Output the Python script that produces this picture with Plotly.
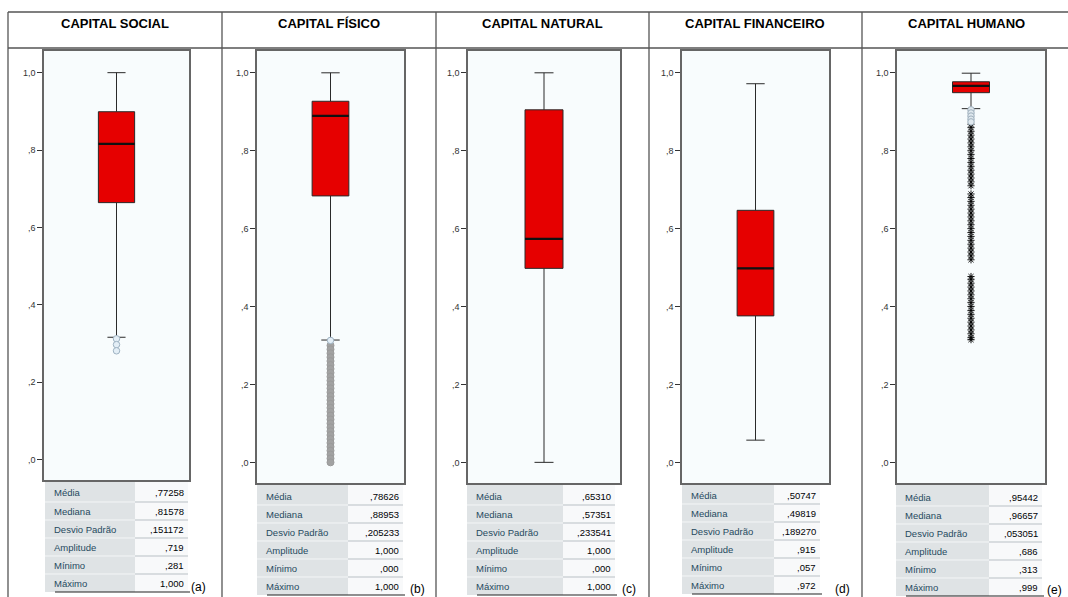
import plotly.graph_objects as go

# ---------------- data ----------------
titles = ["CAPITAL SOCIAL", "CAPITAL FÍSICO", "CAPITAL NATURAL", "CAPITAL FINANCEIRO", "CAPITAL HUMANO"]
panel_tags = ["(a)", "(b)", "(c)", "(d)", "(e)"]

q1 = [0.664, 0.684, 0.498, 0.376, 0.949]
median = [0.81578, 0.88953, 0.57351, 0.49819, 0.96657]
q3 = [0.899, 0.927, 0.905, 0.647, 0.977]
lower_whisker = [0.316, 0.314, 0.000, 0.057, 0.908]
upper_whisker = [1.000, 1.000, 1.000, 0.972, 0.999]

# outliers (circles)
outliers_social = [0.312, 0.297, 0.281]
outliers_fisico = [0.30, 0.29, 0.28, 0.27, 0.26, 0.25, 0.24, 0.23, 0.22, 0.21, 0.20,
                   0.19, 0.18, 0.17, 0.16, 0.15, 0.14, 0.13, 0.12, 0.11, 0.10,
                   0.09, 0.08, 0.07, 0.06, 0.05, 0.04, 0.03, 0.02, 0.01, 0.00]
outliers_fisico_top = [0.313]
outliers_humano = [0.905, 0.897, 0.889, 0.881, 0.874]
# extreme values (stars)
extremes_humano = [0.868, 0.86, 0.85, 0.84, 0.83, 0.82, 0.81, 0.80, 0.79, 0.78, 0.77,
                   0.76, 0.75, 0.74, 0.73, 0.72, 0.71,
                   0.689, 0.68, 0.67, 0.66, 0.65, 0.64, 0.63, 0.62, 0.61, 0.60,
                   0.59, 0.58, 0.57, 0.56, 0.55, 0.54, 0.53, 0.52,
                   0.477, 0.47, 0.46, 0.45, 0.44, 0.43, 0.42, 0.41, 0.40, 0.39,
                   0.38, 0.37, 0.36, 0.35, 0.34, 0.33, 0.32, 0.315]

y_tick_vals = [0.0, 0.2, 0.4, 0.6, 0.8, 1.0]
y_tick_text = [",0", ",2", ",4", ",6", ",8", "1,0"]

stat_labels = ["Média", "Mediana", "Desvio Padrão", "Amplitude", "Mínimo", "Máximo"]
stats_social = [",77258", ",81578", ",151172", ",719", ",281", "1,000"]
stats_fisico = [",78626", ",88953", ",205233", "1,000", ",000", "1,000"]
stats_natural = [",65310", ",57351", ",233541", "1,000", ",000", "1,000"]
stats_financeiro = [",50747", ",49819", ",189270", ",915", ",057", ",972"]
stats_humano = [",95442", ",96657", ",053051", ",686", ",313", ",999"]
stats_all = [stats_social, stats_fisico, stats_natural, stats_financeiro, stats_humano]

# ---------------- layout geometry (pixels) ----------------
W, H = 1068, 597
def px(x):
    return x / W
def py(y):
    return 1 - y / H

frames = [  # left, right, top, bottom
    (44, 189, 51, 480),
    (257, 404, 51, 483),
    (468, 620, 51, 483),
    (682, 829, 51, 483),
    (897, 1045, 51, 483),
]
col_edges = [8, 222, 436, 649, 862, 1070]
title_centers = [115, 329, 542, 755, 966]
tables = [  # label_left, mid, right, row_top
    (45, 135, 188, 484),
    (257, 348, 403, 487),
    (467, 563, 615, 487),
    (682, 774, 820, 486),
    (896, 989, 1042, 488),
]
tag_pos = [(198, 587), (417, 589), (629, 589), (842, 589), (1054, 590)]
ROW_H = 18
YR = [-0.053, 1.056]
BOX_POS = 0.5
BOX_W = 0.25

fig = go.Figure()
layout = dict(
    width=W, height=H, margin=dict(l=0, r=0, t=0, b=0),
    paper_bgcolor="white", plot_bgcolor="#f8fcfd",
    showlegend=False, font=dict(family="Liberation Sans, Arial, sans-serif"),
)

for i in range(5):
    n = i + 1
    xa = "x" if n == 1 else f"x{n}"
    ya = "y" if n == 1 else f"y{n}"
    l, r, t, b = frames[i]
    layout[f"xaxis{n}" if n > 1 else "xaxis"] = dict(
        domain=[px(l), px(r)], anchor=ya, range=[0, 1],
        showticklabels=False, ticks="", showgrid=False, zeroline=False,
        showline=True, mirror=True, linecolor="#666", linewidth=1.5, fixedrange=True,
    )
    layout[f"yaxis{n}" if n > 1 else "yaxis"] = dict(
        domain=[py(b), py(t)], anchor=xa, range=YR,
        tickvals=y_tick_vals, ticktext=y_tick_text, ticks="outside", ticklen=5,
        tickcolor="#333", tickwidth=1, tickfont=dict(size=9, color="#333"),
        showgrid=False, zeroline=False,
        showline=True, mirror=True, linecolor="#666", linewidth=1.5, fixedrange=True,
    )

    fig.add_trace(go.Box(
        x=[BOX_POS], q1=[q1[i]], median=[median[i]], q3=[q3[i]],
        lowerfence=[lower_whisker[i]], upperfence=[upper_whisker[i]],
        width=BOX_W, whiskerwidth=0.5, fillcolor="#e60000",
        line=dict(color="#2a2a2a", width=1), boxpoints=False,
        xaxis=xa, yaxis=ya, hoverinfo="skip",
    ))
    # thicker median line
    fig.add_trace(go.Scatter(
        x=[BOX_POS - BOX_W / 2, BOX_POS + BOX_W / 2], y=[median[i], median[i]],
        mode="lines", line=dict(color="#111", width=2.2),
        xaxis=xa, yaxis=ya, hoverinfo="skip",
    ))

def add_points(vals, axis_n, symbol, size, color, line_color, line_w=1):
    xa = "x" if axis_n == 1 else f"x{axis_n}"
    ya = "y" if axis_n == 1 else f"y{axis_n}"
    fig.add_trace(go.Scatter(
        x=[BOX_POS] * len(vals), y=vals, mode="markers",
        marker=dict(symbol=symbol, size=size, color=color,
                    line=dict(color=line_color, width=line_w)),
        xaxis=xa, yaxis=ya, hoverinfo="skip",
    ))

add_points(outliers_social, 1, "circle", 6.5, "#e3eef6", "#9fb3c3")
add_points(outliers_fisico, 2, "circle", 7, "#a2a2a2", "#9a9a9a")
add_points(outliers_fisico_top, 2, "circle", 6.5, "#e3eef6", "#9fb3c3")
add_points(extremes_humano, 5, "asterisk-open", 6, "#000", "#111", 0.9)
add_points(outliers_humano, 5, "circle", 6.5, "#dfe8ee", "#9fb0bd")

shapes = []
annotations = []
LINE_C = "#555"
# outer grid
shapes.append(dict(type="line", xref="paper", yref="paper", x0=px(8), x1=px(1068), y0=py(12), y1=py(12),
                   line=dict(color=LINE_C, width=1.3)))
shapes.append(dict(type="line", xref="paper", yref="paper", x0=px(8), x1=px(1068), y0=py(48), y1=py(48),
                   line=dict(color=LINE_C, width=1.3)))
for xe in col_edges[:-1]:
    shapes.append(dict(type="line", xref="paper", yref="paper", x0=px(xe), x1=px(xe), y0=py(12), y1=py(597),
                       line=dict(color=LINE_C, width=1.3)))

for i in range(5):
    annotations.append(dict(x=px(title_centers[i]), y=py(23), xref="paper", yref="paper",
                            text=f"<b>{titles[i]}</b>", showarrow=False,
                            font=dict(size=13, color="#000", family="Liberation Sans, Arial"),
                            xanchor="center", yanchor="middle"))
    ll, mid, rr, top = tables[i]
    fb = frames[i][3]
    bottom = top + ROW_H * len(stat_labels)
    # label / value column backgrounds
    shapes.append(dict(type="rect", xref="paper", yref="paper", x0=px(ll), x1=px(mid),
                       y0=py(bottom), y1=py(fb + 1), fillcolor="#dfe3e5", line=dict(width=0), layer="below"))
    shapes.append(dict(type="rect", xref="paper", yref="paper", x0=px(mid), x1=px(rr),
                       y0=py(bottom), y1=py(fb + 1), fillcolor="#f8f9fa", line=dict(width=0), layer="below"))
    for k, lab in enumerate(stat_labels):
        yc = top + ROW_H * (k + 0.5)
        annotations.append(dict(x=px(ll + 7), y=py(yc), xref="paper", yref="paper", text=lab,
                                showarrow=False, xanchor="left", yanchor="middle",
                                font=dict(size=9.5, color="#264a60")))
        annotations.append(dict(x=px(rr - 2), y=py(yc), xref="paper", yref="paper", text=stats_all[i][k],
                                showarrow=False, xanchor="right", yanchor="middle",
                                font=dict(size=9.5, color="#010205")))
        if k < len(stat_labels) - 1:
            ys = top + ROW_H * (k + 1)
            shapes.append(dict(type="line", xref="paper", yref="paper", x0=px(ll), x1=px(mid),
                               y0=py(ys), y1=py(ys), line=dict(color="#f4f6f7", width=1)))
            shapes.append(dict(type="line", xref="paper", yref="paper", x0=px(mid), x1=px(rr),
                               y0=py(ys), y1=py(ys), line=dict(color="#b9c0c5", width=1)))
    shapes.append(dict(type="line", xref="paper", yref="paper", x0=px(ll + 10), x1=px(rr + 2),
                       y0=py(bottom), y1=py(bottom), line=dict(color="#222", width=1.2)))
    tx, ty = tag_pos[i]
    annotations.append(dict(x=px(tx), y=py(ty), xref="paper", yref="paper", text=panel_tags[i],
                            showarrow=False, xanchor="center", yanchor="middle",
                            font=dict(size=12, color="#000")))

layout["shapes"] = shapes
layout["annotations"] = annotations
fig.update_layout(**layout)
fig.write_html("out.html")
